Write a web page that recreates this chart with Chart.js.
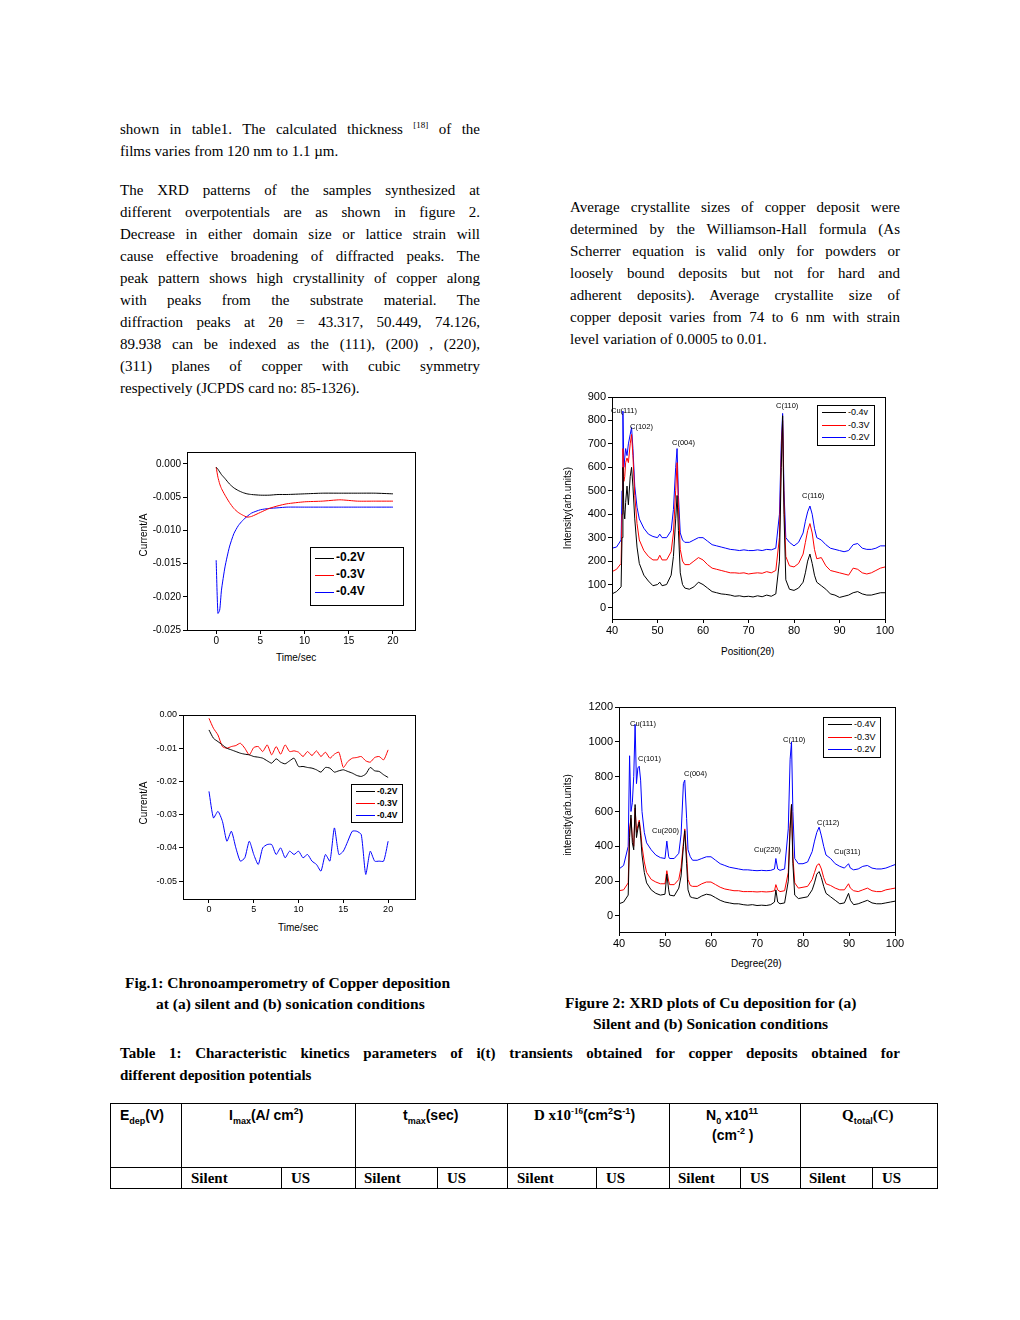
<!DOCTYPE html>
<html><head><meta charset="utf-8">
<script src="https://cdn.jsdelivr.net/npm/chart.js@4/dist/chart.umd.min.js"></script>
<style>
body{margin:0;background:#fff;width:1020px;height:1320px;position:relative;font-family:"Liberation Serif",serif;color:#000}
.t{position:absolute;font-size:15px;line-height:22px;white-space:nowrap}
.j{text-align:justify;text-align-last:justify;white-space:normal}
.b{font-weight:bold}
.s{position:absolute;font-family:"Liberation Sans",Arial,sans-serif;white-space:nowrap}
sup,sub{line-height:0}
canvas{position:absolute}
.ln{position:absolute;background:#000}
.leg{position:absolute;border:1px solid #000;background:#fff;font-family:"Liberation Sans",Arial,sans-serif}
.leg div{position:relative;height:var(--h);line-height:var(--h)}
.leg span.l{position:absolute;left:4px;top:50%;height:1px}
</style></head><body>
<div class="t" style="left:120px;top:118px;width:360px" ><div class="j">shown in table1. The calculated thickness <sup style="font-size:9px">[18]</sup> of the</div><div>films varies from 120 nm to 1.1 µm.</div></div>
<div class="t" style="left:120px;top:179px;width:360px">
<div class="j">The XRD patterns of the samples synthesized at</div>
<div class="j">different overpotentials are as shown in figure 2.</div>
<div class="j">Decrease in either domain size or lattice strain will</div>
<div class="j">cause effective broadening of diffracted peaks. The</div>
<div class="j">peak pattern shows high crystallinity of copper along</div>
<div class="j">with peaks from the substrate material. The</div>
<div class="j">diffraction peaks at 2θ = 43.317, 50.449, 74.126,</div>
<div class="j">89.938 can be indexed as the (111), (200) , (220),</div>
<div class="j">(311) planes of copper with cubic symmetry</div>
<div>respectively (JCPDS card no: 85-1326).</div></div>
<div class="t" style="left:570px;top:196px;width:330px">
<div class="j">Average crystallite sizes of copper deposit were</div>
<div class="j">determined by the Williamson-Hall formula (As</div>
<div class="j">Scherrer equation is valid only for powders or</div>
<div class="j">loosely bound deposits but not for hard and</div>
<div class="j">adherent deposits). Average crystallite size of</div>
<div class="j">copper deposit varies from 74 to 6 nm with strain</div>
<div>level variation of 0.0005 to 0.01.</div></div>

<canvas id="cA"></canvas><canvas id="cB"></canvas><canvas id="cC"></canvas><canvas id="cD"></canvas>

<div class="s" style="font-size:10px;transform:translate(-50%,-50%) rotate(-90deg);left:143px;top:535px">Current/A</div>
<div class="s" style="left:276px;top:652px;font-size:10px">Time/sec</div>
<div class="s" style="font-size:10px;transform:translate(-50%,-50%) rotate(-90deg);left:143px;top:803px">Current/A</div>
<div class="s" style="left:278px;top:922px;font-size:10px">Time/sec</div>
<div class="s" style="font-size:10px;transform:translate(-50%,-50%) rotate(-90deg);left:567px;top:508px">Intensity(arb.units)</div>
<div class="s" style="left:721px;top:646px;font-size:10px">Position(2θ)</div>
<div class="s" style="font-size:10px;transform:translate(-50%,-50%) rotate(-90deg);left:567px;top:815px">intensity(arb.units)</div>
<div class="s" style="left:731px;top:958px;font-size:10px">Degree(2θ)</div>

<div class="leg" style="left:310px;top:547px;width:92px;height:56px;--h:17px;font-size:12px;font-weight:bold;padding-top:1px">
<div><span class="l" style="width:19px;background:#000"></span><span style="margin-left:25px">-0.2V</span></div>
<div><span class="l" style="width:19px;background:#f00"></span><span style="margin-left:25px">-0.3V</span></div>
<div><span class="l" style="width:19px;background:#00f"></span><span style="margin-left:25px">-0.4V</span></div></div>
<div class="leg" style="left:351px;top:784px;width:50px;height:37px;--h:12px;font-size:8.5px;font-weight:bold">
<div><span class="l" style="width:19px;background:#000"></span><span style="margin-left:25px">-0.2V</span></div>
<div><span class="l" style="width:19px;background:#f00"></span><span style="margin-left:25px">-0.3V</span></div>
<div><span class="l" style="width:19px;background:#00f"></span><span style="margin-left:25px">-0.4V</span></div></div>
<div class="leg" style="left:817px;top:405px;width:56px;height:39px;--h:12.5px;font-size:9px">
<div><span class="l" style="width:24px;background:#000"></span><span style="margin-left:30px">-0.4v</span></div>
<div><span class="l" style="width:24px;background:#f00"></span><span style="margin-left:30px">-0.3V</span></div>
<div><span class="l" style="width:24px;background:#00f"></span><span style="margin-left:30px">-0.2V</span></div></div>
<div class="leg" style="left:823px;top:717px;width:56px;height:39px;--h:12.5px;font-size:9px">
<div><span class="l" style="width:24px;background:#000"></span><span style="margin-left:30px">-0.4V</span></div>
<div><span class="l" style="width:24px;background:#f00"></span><span style="margin-left:30px">-0.3V</span></div>
<div><span class="l" style="width:24px;background:#00f"></span><span style="margin-left:30px">-0.2V</span></div></div>

<div class="s" style="font-size:7.5px;left:611px;top:406px">Cu(111)</div>
<div class="s" style="font-size:7.5px;left:630px;top:422px">C(102)</div>
<div class="s" style="font-size:7.5px;left:672px;top:438px">C(004)</div>
<div class="s" style="font-size:7.5px;left:776px;top:401px">C(110)</div>
<div class="s" style="font-size:7.5px;left:802px;top:491px">C(116)</div>
<div class="s" style="font-size:7.5px;left:630px;top:719px">Cu(111)</div>
<div class="s" style="font-size:7.5px;left:638px;top:754px">C(101)</div>
<div class="s" style="font-size:7.5px;left:684px;top:769px">C(004)</div>
<div class="s" style="font-size:7.5px;left:652px;top:826px">Cu(200)</div>
<div class="s" style="font-size:7.5px;left:783px;top:735px">C(110)</div>
<div class="s" style="font-size:7.5px;left:754px;top:845px">Cu(220)</div>
<div class="s" style="font-size:7.5px;left:817px;top:818px">C(112)</div>
<div class="s" style="font-size:7.5px;left:834px;top:847px">Cu(311)</div>

<div class="t b" style="left:125px;top:972px;font-size:15.5px">Fig.1: Chronoamperometry of Copper deposition</div>
<div class="t b" style="left:156px;top:993px;font-size:15.5px">at (a) silent and (b) sonication conditions</div>
<div class="t b" style="left:565px;top:992px;font-size:15.5px">Figure 2: XRD plots of Cu deposition for (a)</div>
<div class="t b" style="left:593px;top:1013px;font-size:15.5px">Silent and (b) Sonication conditions</div>
<div class="t b" style="left:120px;top:1042px;width:780px"><div class="j">Table 1: Characteristic kinetics parameters of i(t) transients obtained for copper deposits obtained for</div><div>different deposition potentials</div></div>

<div class="ln" style="left:110px;top:1103px;width:828px;height:1px"></div>
<div class="ln" style="left:110px;top:1167px;width:828px;height:1px"></div>
<div class="ln" style="left:110px;top:1188px;width:828px;height:1px"></div>
<div class="ln" style="left:110px;top:1103px;width:1px;height:86px"></div>
<div class="ln" style="left:937px;top:1103px;width:1px;height:86px"></div>
<div class="ln" style="left:181px;top:1103px;width:1px;height:86px"></div>
<div class="ln" style="left:355px;top:1103px;width:1px;height:86px"></div>
<div class="ln" style="left:507px;top:1103px;width:1px;height:86px"></div>
<div class="ln" style="left:669px;top:1103px;width:1px;height:86px"></div>
<div class="ln" style="left:800px;top:1103px;width:1px;height:86px"></div>
<div class="ln" style="left:281px;top:1167px;width:1px;height:22px"></div>
<div class="ln" style="left:437px;top:1167px;width:1px;height:22px"></div>
<div class="ln" style="left:596px;top:1167px;width:1px;height:22px"></div>
<div class="ln" style="left:740px;top:1167px;width:1px;height:22px"></div>
<div class="ln" style="left:872px;top:1167px;width:1px;height:22px"></div>
<div class="t b" style="left:120px;top:1104px;font-family:'Liberation Sans',sans-serif;font-size:14px">E<sub style="font-size:9px">dep</sub>(V)</div>
<div class="t b" style="left:229px;top:1104px;font-family:'Liberation Sans',sans-serif;font-size:14px">I<sub style="font-size:9px">max</sub>(A/ cm<sup style="font-size:9px">2</sup>)</div>
<div class="t b" style="left:403px;top:1104px;font-family:'Liberation Sans',sans-serif;font-size:14px">t<sub style="font-size:9px">max</sub>(sec)</div>
<div class="t b" style="left:534px;top:1104px;">D x10<sup style="font-size:9px">-16</sup><span style="font-family:'Liberation Sans',sans-serif;font-size:14px">(cm<sup style="font-size:9px">2</sup>S<sup style="font-size:9px">-1</sup>)</span></div>
<div class="t b" style="left:706px;top:1104px;font-family:'Liberation Sans',sans-serif;font-size:14px">N<sub style="font-size:9px">0</sub> x10<sup style="font-size:9px">11</sup></div>
<div class="t b" style="left:712px;top:1124px;font-family:'Liberation Sans',sans-serif;font-size:14px">(cm<sup style="font-size:9px">-2</sup> )</div>
<div class="t b" style="left:842px;top:1104px;">Q<sub style="font-size:9px;font-family:'Liberation Sans'">total</sub>(C)</div>
<div class="t b" style="left:191px;top:1167px">Silent</div><div class="t b" style="left:291px;top:1167px">US</div>
<div class="t b" style="left:364px;top:1167px">Silent</div><div class="t b" style="left:447px;top:1167px">US</div>
<div class="t b" style="left:517px;top:1167px">Silent</div><div class="t b" style="left:606px;top:1167px">US</div>
<div class="t b" style="left:678px;top:1167px">Silent</div><div class="t b" style="left:750px;top:1167px">US</div>
<div class="t b" style="left:809px;top:1167px">Silent</div><div class="t b" style="left:882px;top:1167px">US</div>

<script>
// ---- Fig 1(a) silent chronoamperometry ----
const timeA=[0,0.2,0.4,0.6,1,1.5,2,2.5,3,3.5,4,5,6,7,8,10,12,14,16,18,20];
const silent02=[-0.0005,-0.0008,-0.0012,-0.0016,-0.0022,-0.003,-0.0036,-0.004,-0.0043,-0.0045,-0.0046,-0.0047,-0.0047,-0.0046,-0.0046,-0.0045,-0.0044,-0.0044,-0.0044,-0.0044,-0.0045];
const silent03=[-0.0005,-0.002,-0.003,-0.0037,-0.0047,-0.0058,-0.0067,-0.0073,-0.0077,-0.008,-0.0079,-0.0073,-0.0067,-0.0063,-0.006,-0.0057,-0.0056,-0.0054,-0.0056,-0.0056,-0.0056];
const silent04=[-0.0145,-0.0225,-0.022,-0.019,-0.0155,-0.0125,-0.0105,-0.0093,-0.0085,-0.0079,-0.0074,-0.0069,-0.0067,-0.0066,-0.0065,-0.0065,-0.0065,-0.0065,-0.0065,-0.0065,-0.0065];
const ticksAy=[0,-0.005,-0.010,-0.015,-0.020,-0.025];
const ticksAx=[0,5,10,15,20];
// ---- Fig 1(b) sonication chronoamperometry ----
const timeB=[0,0.5,1,1.5,2,2.5,3,3.5,4,4.5,5,5.5,6,6.5,7,7.5,8,8.5,9,9.5,10,10.5,11,11.5,12,12.5,13,13.5,14,14.5,15,15.5,16,16.5,17,17.5,18,18.5,19,19.5,20];
const sono02=[-0.0045,-0.007,-0.008,-0.009,-0.010,-0.0105,-0.011,-0.0115,-0.0118,-0.012,-0.0125,-0.0127,-0.013,-0.0138,-0.0145,-0.0132,-0.0142,-0.0147,-0.0138,-0.013,-0.0155,-0.0155,-0.0158,-0.016,-0.0165,-0.0172,-0.0158,-0.016,-0.0172,-0.0168,-0.0165,-0.017,-0.0175,-0.0182,-0.0185,-0.0178,-0.0158,-0.0168,-0.017,-0.018,-0.0188];
const sono03=[-0.001,-0.004,-0.006,-0.0095,-0.0100,-0.0095,-0.0092,-0.0085,-0.010,-0.012,-0.0098,-0.0095,-0.0110,-0.0090,-0.0120,-0.0095,-0.0118,-0.0090,-0.0110,-0.0108,-0.0112,-0.0125,-0.0110,-0.0122,-0.0108,-0.0125,-0.0112,-0.0130,-0.0118,-0.0112,-0.0158,-0.0140,-0.0130,-0.0128,-0.0125,-0.0138,-0.0142,-0.0128,-0.0125,-0.0135,-0.0105];
const sono04=[-0.023,-0.031,-0.029,-0.032,-0.038,-0.035,-0.040,-0.044,-0.043,-0.038,-0.042,-0.045,-0.040,-0.039,-0.039,-0.042,-0.040,-0.043,-0.041,-0.042,-0.041,-0.043,-0.042,-0.044,-0.045,-0.047,-0.042,-0.044,-0.034,-0.042,-0.041,-0.038,-0.035,-0.035,-0.036,-0.048,-0.041,-0.044,-0.044,-0.044,-0.038];
const ticksBy=[0,-0.01,-0.02,-0.03,-0.04,-0.05];
const ticksBx=[0,5,10,15,20];
// ---- Fig 2(a) XRD silent ----
const thetaC=[40,41,42,42.2,42.4,42.6,42.8,43,43.3,43.6,44,44.3,44.6,45,45.5,46,47,48,49,50,50.5,51,52,53,53.5,54,54.3,54.6,55,55.5,56,57,58,59,60,61,62,63,64,65,66,67,68,69,70,71,72,73,74,75,76,76.8,77.2,77.5,77.8,78.2,79,80,81,82,82.5,83,83.5,84,84.5,85,86,87,88,89,90,91,92,93,94,95,96,97,98,99,100];
const xrdS04=[60,70,90,300,600,420,380,450,520,440,560,600,520,380,260,190,140,115,95,100,110,95,100,140,220,380,480,330,150,100,85,80,90,110,100,85,70,65,60,58,55,50,52,48,50,47,52,48,55,50,60,200,600,820,400,120,80,75,85,110,150,200,230,190,140,110,95,80,60,55,45,50,55,65,70,60,55,55,60,65,65];
const xrdS03=[155,165,190,400,680,540,560,620,640,620,700,740,650,480,360,290,245,220,205,205,225,205,205,240,320,500,620,430,250,200,185,185,200,215,205,185,170,165,160,155,150,150,148,150,145,148,150,148,155,150,160,300,650,800,450,220,180,175,190,230,280,330,360,320,250,210,215,180,160,155,150,145,140,170,165,150,145,150,160,170,175];
const xrdS02=[255,260,290,500,840,600,640,680,650,700,740,770,680,520,430,380,340,315,305,300,315,300,300,330,420,600,680,480,320,290,280,280,290,300,300,285,270,265,260,255,250,248,245,248,245,245,248,245,250,248,255,400,700,830,500,300,280,265,280,320,370,410,435,400,340,300,290,270,255,250,245,240,245,270,275,255,250,250,255,265,265];
const ticksCy=[0,100,200,300,400,500,600,700,800,900];
// ---- Fig 2(b) XRD sonication ----
const thetaD=[40,41,42,42.3,42.6,42.9,43.2,43.5,43.8,44.1,44.4,44.7,45,45.5,46,47,48,49,50,50.4,50.8,51,52,53,53.5,54,54.3,54.7,55,55.5,56,57,58,59,60,61,62,63,64,65,66,67,68,69,70,71,72,73,73.8,74.1,74.5,75,76,76.8,77.2,77.5,77.8,78.2,79,80,81,82,82.5,83,83.5,84,84.5,85,86,87,88,89,89.9,90.3,91,92,93,94,95,96,97,98,99,100];
const xrdU04=[70,80,120,450,580,420,380,640,450,500,540,460,350,250,190,150,130,120,125,240,150,120,115,160,230,400,490,300,150,110,105,100,115,125,120,105,90,80,75,70,70,65,62,65,60,62,60,65,80,150,80,70,75,200,500,640,300,120,100,105,110,150,190,240,255,220,170,130,110,90,70,75,130,90,65,70,80,90,75,70,70,75,80,85];
const xrdU03=[145,150,190,500,560,450,400,620,480,520,550,490,400,310,250,210,195,185,185,260,200,180,180,210,280,420,500,350,210,175,170,170,185,195,195,180,165,155,150,145,145,140,140,140,138,140,138,140,145,180,150,140,145,250,520,640,340,190,160,165,170,210,250,290,300,270,220,185,175,160,150,150,185,160,145,140,150,160,145,140,140,150,155,160];
const xrdU02=[270,290,400,920,600,650,800,1100,760,850,860,780,600,480,420,380,350,335,330,430,340,330,330,360,470,760,780,560,380,340,320,320,330,340,340,320,300,290,280,275,270,265,265,262,260,262,260,262,270,330,270,262,270,500,900,1000,600,330,300,300,310,370,430,480,510,460,400,350,330,300,285,275,300,275,265,270,285,290,275,270,270,275,285,295];
const ticksDy=[0,200,400,600,800,1000,1200];
const ticksX=[40,50,60,70,80,90,100];

const frame={id:'frame',afterDraw(c){const a=c.chartArea,x=c.ctx;x.save();x.strokeStyle='#000';x.lineWidth=1;x.strokeRect(Math.round(a.left)+0.5,Math.round(a.top)+0.5,Math.round(a.width),Math.round(a.height));x.restore();}};
function pts(xs,ys){return xs.map((v,i)=>({x:v,y:ys[i]}));}
function make(id,plot,xr,yr,xt,yt,series,fs,fmt,ten){
  const yW=52,xH=22,pT=10,pR=12;
  const cv=document.getElementById(id);
  cv.style.left=(plot.l-yW)+'px';cv.style.top=(plot.t-pT)+'px';
  const w=plot.r-plot.l+yW+pR,h=plot.b-plot.t+pT+xH;
  cv.style.width=w+'px';cv.style.height=h+'px';cv.width=w;cv.height=h;
  new Chart(cv,{type:'line',data:{datasets:series.map(s=>({data:pts(s[0],s[1]),borderColor:s[2],borderWidth:1,pointRadius:0,tension:ten,fill:false}))},
    options:{responsive:false,animation:false,layout:{padding:{top:pT,right:pR}},plugins:{legend:{display:false},tooltip:{enabled:false}},
    scales:{x:{type:'linear',min:xr[0],max:xr[1],afterFit:s=>{s.height=xH;s.paddingLeft=0;s.paddingRight=0},afterBuildTicks:s=>{s.ticks=xt.map(v=>({value:v}))},
      grid:{display:true,drawOnChartArea:false,tickLength:4,color:'#000'},border:{color:'#000'},ticks:{color:'#000',font:{family:'Liberation Sans',size:fs},padding:1,maxRotation:0}},
     y:{type:'linear',min:yr[0],max:yr[1],afterFit:s=>{s.width=yW;s.paddingTop=0;s.paddingBottom=0},afterBuildTicks:s=>{s.ticks=yt.map(v=>({value:v}))},
      grid:{display:true,drawOnChartArea:false,tickLength:4,color:'#000'},border:{color:'#000'},ticks:{color:'#000',font:{family:'Liberation Sans',size:fs},padding:2,callback:fmt}}}},
    plugins:[frame]});
}
make('cA',{l:187,r:415,t:452,b:630},[-3.3,22.5],[-0.025,0.0018],ticksAx,ticksAy,
  [[timeA,silent02,'#000'],[timeA,silent03,'#f00'],[timeA,silent04,'#00f']],10,v=>v.toFixed(3),0.2);
make('cB',{l:183,r:415,t:715,b:899},[-2.9,23],[-0.0554,0],ticksBx,ticksBy,
  [[timeB,sono02,'#000'],[timeB,sono03,'#f00'],[timeB,sono04,'#00f']],9,v=>v.toFixed(2),0.2);
make('cC',{l:612,r:885,t:397,b:619},[40,100],[-47,900],ticksX,ticksCy,
  [[thetaC,xrdS04,'#000'],[thetaC,xrdS03,'#f00'],[thetaC,xrdS02,'#00f']],11,v=>v,0);
make('cD',{l:619,r:895,t:707,b:932},[40,100],[-92,1200],ticksX,ticksDy,
  [[thetaD,xrdU04,'#000'],[thetaD,xrdU03,'#f00'],[thetaD,xrdU02,'#00f']],11,v=>v,0);
</script>
</body></html>
